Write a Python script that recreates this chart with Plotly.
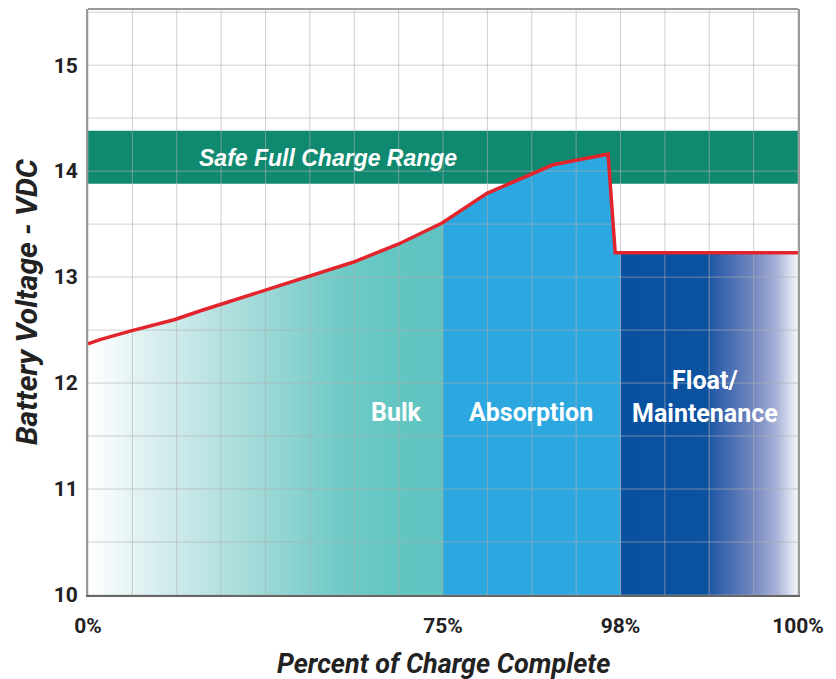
import numpy as np
import plotly.graph_objects as go

# ---------------- data ----------------
# x is measured in chart grid units (16 columns); ticks map them to % of charge
curve_x = [0.0, 0.27, 0.95, 1.96, 2.52, 3.94, 4.94, 5.97, 6.99, 7.98, 8.99, 9.98, 10.48, 10.97, 11.72, 11.88, 16.0]
curve_v = [12.37, 12.41, 12.49, 12.60, 12.68, 12.87, 13.00, 13.14, 13.31, 13.51, 13.79, 13.97, 14.06, 14.10, 14.16, 13.23, 13.23]
phase_bounds = [0, 8, 12, 16]
phase_names = ["Bulk", "Absorption", "Float/<br>Maintenance"]
tick_pos = [0, 8, 12, 16]
tick_text = ["0%", "75%", "98%", "100%"]
y_ticks = [10, 11, 12, 13, 14, 15]
safe_range = [13.88, 14.38]
y_min, y_max = 10, 15.53

cx = np.array(curve_x)
cv = np.array(curve_v)


def segment(a, b):
    """curve points between a and b (inclusive, interpolated ends)"""
    inner = [(x, v) for x, v in zip(cx, cv) if a < x < b]
    xs = [a] + [p[0] for p in inner] + [b]
    vs = [float(np.interp(a, cx, cv))] + [p[1] for p in inner] + [float(np.interp(b, cx, cv))]
    return xs, vs


fig = go.Figure()

# safe charge band
fig.add_shape(type="rect", xref="x", yref="y", x0=phase_bounds[0], x1=phase_bounds[-1],
              y0=safe_range[0], y1=safe_range[1], fillcolor="#0f8a70", line_width=0, layer="below")

# Bulk fill (gradient)
xs, vs = segment(phase_bounds[0], phase_bounds[1])
fig.add_trace(go.Scatter(
    x=xs + [phase_bounds[1], phase_bounds[0]], y=vs + [y_min, y_min],
    fill="toself", mode="none", hoverinfo="skip", showlegend=False,
    fillgradient=dict(type="horizontal",
                      colorscale=[[0, "#ffffff"], [0.12, "#e6f4f5"], [0.3, "#c4e6e7"],
                                  [0.5, "#9bd8d6"], [0.7, "#72cbc8"], [0.85, "#63c6c3"], [1, "#5fc3c1"]])))

# Absorption fill
xs, vs = segment(phase_bounds[1], phase_bounds[2])
fig.add_trace(go.Scatter(
    x=xs + [phase_bounds[2], phase_bounds[1]], y=vs + [y_min, y_min],
    fill="toself", mode="none", fillcolor="#2ca7df", hoverinfo="skip", showlegend=False))

# Float fill (gradient)
xs, vs = segment(phase_bounds[2], phase_bounds[3])
fig.add_trace(go.Scatter(
    x=xs + [phase_bounds[3], phase_bounds[2]], y=vs + [y_min, y_min],
    fill="toself", mode="none", hoverinfo="skip", showlegend=False,
    fillgradient=dict(type="horizontal",
                      colorscale=[[0, "#0a50a0"], [0.48, "#0b52a1"], [0.54, "#2d5fa9"],
                                  [0.75, "#7487c0"], [0.88, "#a9b3d8"], [1, "#f6f7fb"]])))

# grid (drawn above fills, below curve)
gx, gy = [], []
for k in range(0, 17):
    gx += [k, k, None]
    gy += [y_min, y_max, None]
for h in np.arange(10, 15.51, 0.5):
    gx += [0, 16, None]
    gy += [h, h, None]
fig.add_trace(go.Scatter(x=gx, y=gy, mode="lines", line=dict(color="rgba(175,175,175,0.6)", width=1),
                         hoverinfo="skip", showlegend=False))

# voltage curve
fig.add_trace(go.Scatter(x=curve_x, y=curve_v, mode="lines",
                         line=dict(color="#e2252d", width=3.5), hoverinfo="skip", showlegend=False))

cond = "Roboto, Liberation Sans Narrow, DejaVu Sans Condensed, sans-serif"

# phase labels
label_pos = [(6.96, 11.72), (9.98, 11.72), (13.9, 11.87)]
for name, (lx, ly) in zip(phase_names, label_pos):
    fig.add_annotation(x=lx, y=ly, text=name, showarrow=False,
                       font=dict(family=cond, size=25, color="white", weight="bold"))

fig.add_annotation(x=5.41, y=14.12, text="Safe Full Charge Range", showarrow=False,
                   font=dict(family="Liberation Sans, Arial, sans-serif", size=23, color="white",
                             weight="bold", style="italic"))

# axis titles
fig.add_annotation(xref="paper", yref="paper", x=0.5, y=0, yshift=-69, yanchor="middle",
                   text="Percent of Charge Complete", showarrow=False,
                   font=dict(family=cond, size=27, color="#222222", weight="bold", style="italic"))
fig.add_annotation(xref="paper", yref="paper", x=0, y=0.5, xshift=-62, xanchor="center",
                   textangle=-90, text="Battery Voltage - VDC", showarrow=False,
                   font=dict(family=cond, size=30, color="#222222", weight="bold", style="italic"))

# top frame line
fig.add_shape(type="line", xref="paper", yref="paper", x0=0, x1=1, y0=1, y1=1,
              line=dict(color="#999999", width=2))

fig.update_layout(
    width=828, height=671,
    margin=dict(l=80, r=38, t=1, b=84),
    paper_bgcolor="white", plot_bgcolor="white",
    xaxis=dict(range=[0, 16], showgrid=False, zeroline=False, tickvals=tick_pos, ticktext=tick_text,
               showline=True, linecolor="#666666", linewidth=2, layer="above traces",
               ticks="", ticklabelstandoff=11,
               tickfont=dict(family=cond, size=21, color="#222222", weight="bold")),
    yaxis=dict(range=[y_min, y_max], showgrid=False, zeroline=False, tickvals=y_ticks,
               showline=True, linecolor="#999999", linewidth=2, mirror=True, layer="above traces",
               ticks="", ticklabelstandoff=4,
               tickfont=dict(family=cond, size=21, color="#222222", weight="bold")),
)

fig.write_html("out.html")
